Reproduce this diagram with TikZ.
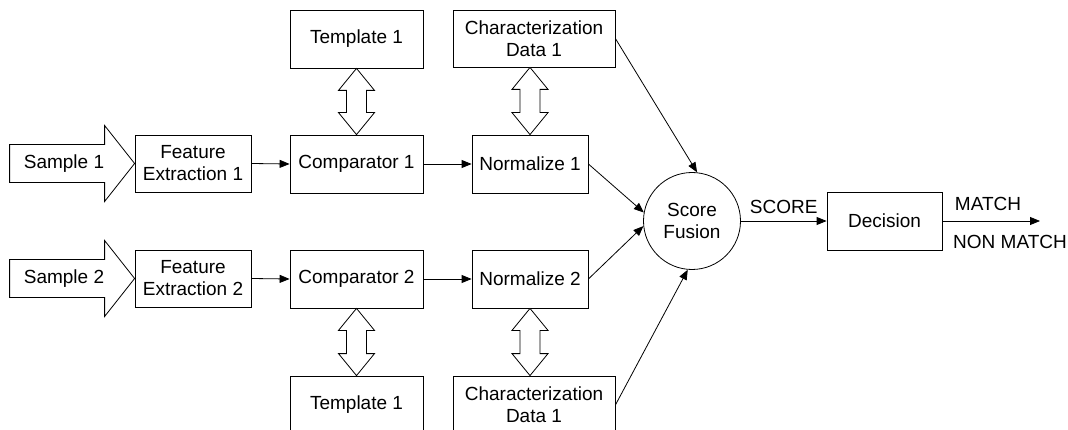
\documentclass[tikz,border=0pt]{standalone}
\usepackage{fontspec}
\setmainfont{Liberation Sans}
\usetikzlibrary{calc,arrows.meta}
\tikzset{
  box/.style={draw, line width=0.8pt, align=center, inner sep=0pt, font=\fontsize{19}{22}\selectfont},
  conn/.style={line width=0.8pt, -{Triangle[length=10pt,width=8pt]}},
  dbl/.style={draw, line width=0.8pt, fill=white, line join=miter},
  lbl/.style={font=\fontsize{19}{22}\selectfont, inner sep=0pt},
}
\newcommand{\dblarr}[2]{%
  \draw[dbl] (#1) -- ($(#1)+(18,22)$) -- ($(#1)+(10,22)$) -- ($(#2)+(10,-22)$) -- ($(#2)+(18,-22)$) -- (#2)
   -- ($(#2)+(-18,-22)$) -- ($(#2)+(-10,-22)$) -- ($(#1)+(-10,22)$) -- ($(#1)+(-18,22)$) -- cycle;}
\begin{document}
\begin{tikzpicture}[x=1pt,y=-1pt]
\useasboundingbox (0,0) rectangle (1068,430);
\clip (0,0) rectangle (1068,430);
% boxes
\node[box, minimum width=116pt, minimum height=57pt] (fe1) at (193,163.5) {Feature\\Extraction 1};
\node[box, minimum width=116pt, minimum height=57pt] (fe2) at (193,278.5) {Feature\\Extraction 2};
\node[box, minimum width=133pt, minimum height=58pt] (c1) at (356.5,164) {Comparator 1};
\node[box, minimum width=133pt, minimum height=58pt] (c2) at (356.5,279) {Comparator 2};
\node[box, minimum width=116pt, minimum height=58pt] (n1) at (530,164) {Normalize 1};
\node[box, minimum width=116pt, minimum height=58pt] (n2) at (530,279) {Normalize 2};
\node[box, minimum width=133pt, minimum height=58pt] (t1) at (356.5,39) {Template 1};
\node[box, minimum width=162pt, minimum height=57pt] (cd1) at (534,38.5) {Characterization\\Data 1};
\node[box, minimum width=133pt, minimum height=58pt] (t2) at (356.5,405) {Template 1};
\node[box, minimum width=162pt, minimum height=58pt] (cd2) at (534,405) {Characterization\\Data 1};
\node[box, circle, minimum size=97pt] (sf) at (692,221) {Score\\Fusion};
\node[box, minimum width=115pt, minimum height=58pt] (dec) at (884.5,221) {Decision};
\coordinate (out) at (1040,221);
% sample arrows
\draw[dbl] (fe1.west) -- ++(-30,-38) -- ++(0,19) -- ++(-95,0) -- ++(0,38) -- ++(95,0) -- ++(0,19) -- cycle;
\node[lbl] (s1) at (64,164) {Sample 1};
\draw[dbl] (fe2.west) -- ++(-30,-38) -- ++(0,19) -- ++(-95,0) -- ++(0,38) -- ++(95,0) -- ++(0,19) -- cycle;
\node[lbl] (s2) at (64,279) {Sample 2};
% double arrows
\dblarr{t1.south}{c1.north}
\dblarr{cd1.south -| n1.north}{n1.north}
\dblarr{c2.south}{t2.north}
\dblarr{n2.south}{cd2.north -| n2.south}
% connectors
\draw[conn] (fe1.east) -- (c1.west);
\draw[conn] (fe2.east) -- (c2.west);
\draw[conn] (c1.east) -- (n1.west);
\draw[conn] (c2.east) -- (n2.west);
\draw[conn] (cd1.east) -- (sf.84);
\draw[conn] (n1.east) -- (sf.170);
\draw[conn] (n2.east) -- (sf.186);
\draw[conn] (cd2.east) -- (sf.265);
\draw[conn] (sf.east) -- node[lbl, above=7pt] (score) {SCORE} (dec.west);
\draw[conn] (dec.east) -- (out);
\node[lbl] (match) at (988,204) {MATCH};
\node[lbl] (nonmatch) at (1010,242) {NON MATCH};
\end{tikzpicture}
\end{document}
